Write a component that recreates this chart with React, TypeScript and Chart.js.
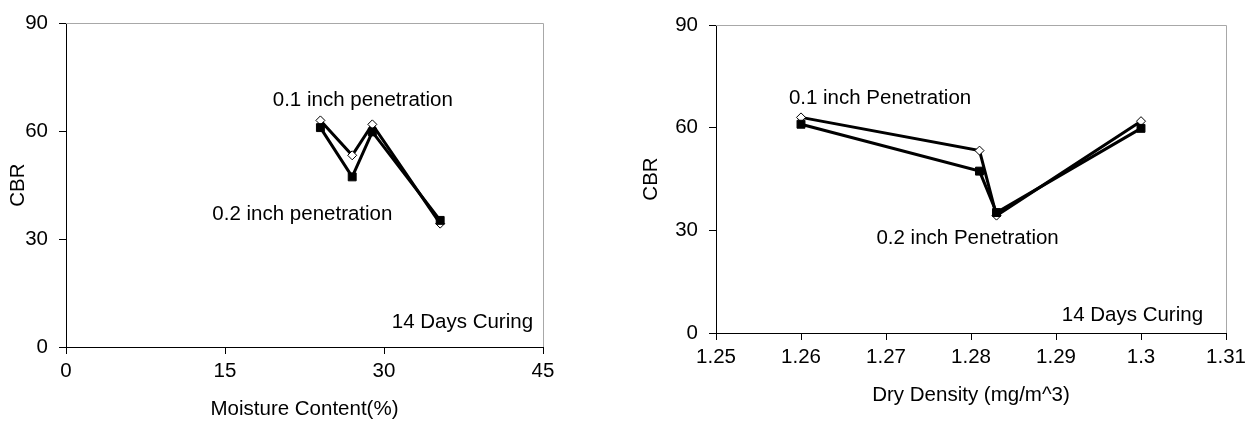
import React, { useEffect, useRef } from 'react';
import { Chart, registerables } from 'chart.js';

Chart.register(...registerables);

// ---- data ----
const moistureContent = [24.0, 27.0, 28.9, 35.3];
const moistureCbr01 = [63.0, 53.3, 61.9, 34.3];
const moistureCbr02 = [61.0, 47.3, 59.8, 35.2];

const dryDensity = [1.26, 1.281, 1.283, 1.3];
const densityCbr01 = [63.0, 53.3, 34.3, 61.9];
const densityCbr02 = [61.0, 47.3, 35.2, 59.8];

const cbrTicks = [0, 30, 60, 90];
const cbrTickLabels = ['0', '30', '60', '90'];
const moistureTicks = [0, 15, 30, 45];
const moistureTickLabels = ['0', '15', '30', '45'];
const densityTicks = [1.25, 1.26, 1.27, 1.28, 1.29, 1.3, 1.31];
const densityTickLabels = ['1.25', '1.26', '1.27', '1.28', '1.29', '1.3', '1.31'];

const FONT_FAMILY = "'Liberation Sans', Arial, Helvetica, sans-serif";
const FONT_SIZE = 20.5;

type TextItem = { text: string; x: number; y: number; align: CanvasTextAlign };

function labelPlugin(items: TextItem[]) {
  return {
    id: 'textLabels',
    afterDatasetsDraw(chart: any) {
      const { ctx, scales } = chart;
      ctx.save();
      ctx.font = `${FONT_SIZE}px ${FONT_FAMILY}`;
      ctx.fillStyle = '#000';
      ctx.textBaseline = 'middle';
      for (const it of items) {
        ctx.textAlign = it.align;
        ctx.fillText(it.text, scales.x.getPixelForValue(it.x), scales.y.getPixelForValue(it.y));
      }
      ctx.restore();
    },
  };
}

const frameLinePlugin = {
  id: 'frameLine',
  beforeDatasetsDraw(chart: any) {
    const { ctx, chartArea: a } = chart;
    ctx.save();
    ctx.strokeStyle = '#a8a8a8';
    ctx.lineWidth = 1;
    ctx.beginPath();
    ctx.moveTo(a.left, Math.round(a.top) + 0.5);
    ctx.lineTo(Math.round(a.right) + 0.5, Math.round(a.top) + 0.5);
    ctx.lineTo(Math.round(a.right) + 0.5, a.bottom);
    ctx.stroke();
    ctx.restore();
  },
};

function axis(
  tickValues: number[],
  tickLabels: string[],
  titleText: string,
  titlePadding: any,
  tickPadding: number,
  fit: (s: any) => void
) {
  return {
    type: 'linear',
    min: tickValues[0],
    max: tickValues[tickValues.length - 1],
    afterBuildTicks: (s: any) => {
      s.ticks = tickValues.map((v) => ({ value: v }));
    },
    afterFit: fit,
    ticks: {
      callback: (_v: any, i: number) => tickLabels[i],
      padding: tickPadding,
      color: '#000',
      autoSkip: false,
      maxRotation: 0,
      font: { size: FONT_SIZE, family: FONT_FAMILY },
    },
    grid: {
      drawOnChartArea: false,
      drawTicks: true,
      tickLength: 7,
      tickColor: '#000',
      lineWidth: 1,
    },
    border: { display: true, color: '#000', width: 1 },
    title: {
      display: true,
      text: titleText,
      color: '#000',
      padding: titlePadding,
      font: { size: FONT_SIZE, family: FONT_FAMILY },
    },
  };
}

function series(xs: number[], ys: number[], kind: '01' | '02') {
  const data = xs.map((x, i) => ({ x, y: ys[i] }));
  if (kind === '01') {
    return {
      data,
      showLine: true,
      borderColor: '#000',
      borderWidth: 3,
      pointStyle: 'rectRot',
      pointRadius: 4.5,
      pointBackgroundColor: '#fff',
      pointBorderColor: '#000',
      pointBorderWidth: 1,
      order: 2,
    };
  }
  return {
    data,
    showLine: true,
    borderColor: '#000',
    borderWidth: 3,
    pointStyle: 'rect',
    pointRadius: 5.6,
    pointBackgroundColor: '#000',
    pointBorderColor: '#000',
    pointBorderWidth: 1,
    order: 1,
  };
}

type ChartProps = {
  left: number;
  config: any;
  plugins: any[];
};

function CbrChart({ left, config, plugins }: ChartProps) {
  const ref = useRef<HTMLCanvasElement>(null);
  useEffect(() => {
    const chart = new Chart(ref.current as HTMLCanvasElement, { ...config, plugins });
    return () => chart.destroy();
  }, []);
  return (
    <canvas
      ref={ref}
      width={627}
      height={424}
      style={{ position: 'absolute', left, top: 0, width: 627, height: 424 }}
    />
  );
}

const leftConfig = {
  type: 'scatter',
  data: {
    datasets: [
      series(moistureContent, moistureCbr01, '01'),
      series(moistureContent, moistureCbr02, '02'),
    ],
  },
  options: {
    responsive: false,
    animation: false,
    devicePixelRatio: 1,
    layout: { padding: { left: 0, top: 18, right: 84, bottom: 0 } },
    plugins: { legend: { display: false }, tooltip: { enabled: false } },
    scales: {
      x: axis(moistureTicks, moistureTickLabels, 'Moisture Content(%)', { top: 0, bottom: 2 }, 5, (s: any) => {
        s.height = 77;
      }),
      y: axis(cbrTicks, cbrTickLabels, 'CBR', { top: 6, bottom: 0 }, 11, (s: any) => {
        s.width = 66;
      }),
    },
  },
};

const rightConfig = {
  type: 'scatter',
  data: {
    datasets: [
      series(dryDensity, densityCbr01, '01'),
      series(dryDensity, densityCbr02, '02'),
    ],
  },
  options: {
    responsive: false,
    animation: false,
    devicePixelRatio: 1,
    layout: { padding: { left: 0, top: 25, right: 28, bottom: 0 } },
    plugins: { legend: { display: false }, tooltip: { enabled: false } },
    scales: {
      x: axis(densityTicks, densityTickLabels, 'Dry Density (mg/m^3)', { top: 0, bottom: 16 }, 5, (s: any) => {
        s.height = 91;
      }),
      y: axis(cbrTicks, cbrTickLabels, 'CBR', { top: 12, bottom: 0 }, 11, (s: any) => {
        s.width = 89;
      }),
    },
  },
};

const leftLabels: TextItem[] = [
  { text: '0.1 inch penetration', x: 28.0, y: 68.5, align: 'center' },
  { text: '0.2 inch penetration', x: 22.3, y: 37.0, align: 'center' },
  { text: '14 Days Curing', x: 44.06, y: 6.85, align: 'right' },
];

const rightLabels: TextItem[] = [
  { text: '0.1 inch Penetration', x: 1.2693, y: 68.5, align: 'center' },
  { text: '0.2 inch Penetration', x: 1.2796, y: 27.6, align: 'center' },
  { text: '14 Days Curing', x: 1.3073, y: 5.2, align: 'right' },
];

export default function App() {
  return (
    <div
      style={{
        position: 'fixed',
        left: 0,
        top: 0,
        width: 1254,
        height: 424,
        background: '#fff',
        overflow: 'hidden',
      }}
    >
      <CbrChart left={0} config={leftConfig} plugins={[frameLinePlugin, labelPlugin(leftLabels)]} />
      <CbrChart left={627} config={rightConfig} plugins={[frameLinePlugin, labelPlugin(rightLabels)]} />
    </div>
  );
}
